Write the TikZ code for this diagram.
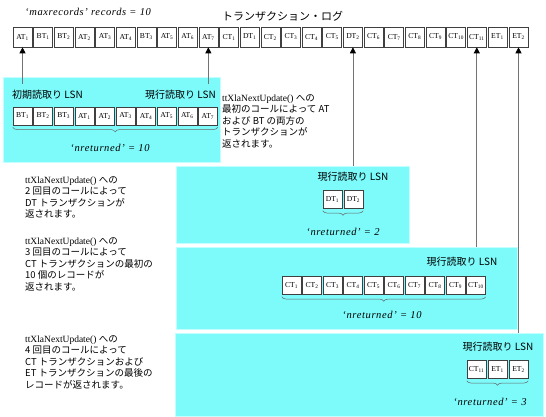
\documentclass[tikz,border=0pt]{standalone}
\usepackage{fontspec}
\setmainfont{Liberation Serif}
\newfontfamily\jp{Noto Sans CJK JP}
\newfontfamily\spaced[LetterSpace=6]{Liberation Serif}
\usetikzlibrary{arrows.meta,decorations.pathreplacing}
\definecolor{panelcyan}{RGB}{125,250,250}
\definecolor{paneledge}{RGB}{195,255,255}
\begin{document}
\begin{tikzpicture}[x=1pt,y=-1pt,
  logbox/.style={draw=black!75, fill=white, line width=0.6pt, minimum width=19pt, minimum height=20pt, inner sep=0pt, font=\fontsize{7.6}{8}\selectfont},
  inbox/.style={logbox, minimum height=18pt},
  panel/.style={fill=panelcyan, draw=paneledge, line width=1.2pt, anchor=north west, inner sep=0pt},
  txt/.style={anchor=north west, align=left, inner sep=0pt, font=\fontsize{9.5}{11.5}\selectfont},
  lsn/.style={font=\jp\fontsize{10}{12}\selectfont, inner sep=0pt},
  cnt/.style={font=\spaced\itshape\fontsize{10.5}{12}\selectfont, inner sep=0pt},
  ttl/.style={inner sep=0pt},
  arr/.style={draw=black!55, line width=0.8pt, -{Triangle[length=6pt,width=6pt,color=black]}},
  brc/.style={draw=black!60, line width=0.5pt, decorate, decoration={brace, mirror, amplitude=4.5pt}}
]
\useasboundingbox (0,0) rectangle (546,416);

% panels
\node[panel, minimum width=217pt, minimum height=85pt] (P1) at (3,77) {};
\node[panel, minimum width=233pt, minimum height=77pt] (P2) at (176,166) {};
\node[panel, minimum width=341pt, minimum height=82pt] (P3) at (176,247) {};
\node[panel, minimum width=368pt, minimum height=83pt] (P4) at (175,333) {};

% titles
\node[ttl, font=\spaced\itshape\fontsize{10.5}{12}\selectfont, anchor=west] (title) at (25,12) {‘maxrecords’ records = 10};
\node[ttl, font=\jp\fontsize{11}{13}\selectfont, anchor=west] (logtitle) at (222,16) {トランザクション・ログ};

% log row
\foreach \n/\s [count=\i from 0] in {AT/1,BT/1,BT/2,AT/2,AT/3,AT/4,BT/3,AT/5,AT/6,AT/7,CT/1,DT/1,CT/2,CT/3,CT/4,CT/5,DT/2,CT/6,CT/7,CT/8,CT/9,CT/10,CT/11,ET/1,ET/2}{
  \pgfmathsetmacro\cx{\i<24 ? 22.5+20.65*\i : 518.5}
  \node[logbox] (L\i) at (\cx,37) {\n\textsubscript{\s}};
}

% panel 1
\node[lsn, anchor=west] (ini) at (12,95) {初期読取り LSN};
\node[lsn, anchor=east] (cur1) at (216,95) {現行読取り LSN};
\foreach \n/\s [count=\i from 0] in {BT/1,BT/2,BT/3,AT/1,AT/2,AT/3,AT/4,AT/5,AT/6,AT/7}{
  \node[inbox] (A\i) at (22.5+20.6*\i,116) {\n\textsubscript{\s}};
}
\draw[brc] ([yshift=-2pt]A0.south west) -- ([yshift=-2pt]A9.south east);
\node[cnt] (n1) at (110,148) {‘nreturned’ = 10};

% panel 2
\node[lsn] (cur2) at (353,177) {現行読取り LSN};
\node[inbox] (D1) at (332.5,199.5) {DT\textsubscript{1}};
\node[inbox] (D2) at (353.5,199.5) {DT\textsubscript{2}};
\draw[brc] ([yshift=-2pt]D1.south west) -- ([yshift=-2pt]D2.south east);
\node[cnt] (n2) at (343,232) {‘nreturned’ = 2};

% panel 3
\node[lsn] (cur3) at (462,262) {現行読取り LSN};
\foreach \s [count=\i from 0] in {1,...,10}{
  \node[inbox] (C\i) at (291.5+20.5*\i,285.5) {CT\textsubscript{\s}};
}
\draw[brc] ([yshift=-2pt]C0.south west) -- ([yshift=-2pt]C9.south east);
\node[cnt] (n3) at (382,315) {‘nreturned’ = 10};

% panel 4
\node[lsn] (cur4) at (498,347) {現行読取り LSN};
\node[inbox] (E0) at (476.5,369.5) {CT\textsubscript{11}};
\node[inbox] (E1) at (497.5,369.5) {ET\textsubscript{1}};
\node[inbox] (E2) at (518.5,369.5) {ET\textsubscript{2}};
\draw[brc] ([yshift=-2pt]E0.south west) -- ([yshift=-2pt]E2.south east);
\node[cnt] (n4) at (490,402) {‘nreturned’ = 3};

% arrows
\coordinate (s0) at (22.5,84);
\coordinate (s9) at (L9 |- s0);
\draw[arr] (s0) -- (L0.south);
\draw[arr] (s9) -- (L9.south);
\draw[arr] (L16 |- P2.north) -- (L16.south);
\draw[arr] (L22 |- P3.north) -- (L22.south);
\draw[arr] (L24 |- P4.north) -- (L24.south);

% descriptions
\node[txt] (T1) at (222,94) {ttXlaNextUpdate() {\jp への}\\{\jp 最初のコールによって AT}\\{\jp および BT の両方の}\\{\jp トランザクションが}\\{\jp 返されます。}};
\node[txt] (T2) at (25,176) {ttXlaNextUpdate() {\jp への}\\{\jp 2 回目のコールによって}\\{\jp DT トランザクションが}\\{\jp 返されます。}};
\node[txt] (T3) at (25,237) {ttXlaNextUpdate() {\jp への}\\{\jp 3 回目のコールによって}\\{\jp CT トランザクションの最初の}\\{\jp 10 個のレコードが}\\{\jp 返されます。}};
\node[txt] (T4) at (25,335) {ttXlaNextUpdate() {\jp への}\\{\jp 4 回目のコールによって}\\{\jp CT トランザクションおよび}\\{\jp ET トランザクションの最後の}\\{\jp レコードが返されます。}};
\end{tikzpicture}
\end{document}
